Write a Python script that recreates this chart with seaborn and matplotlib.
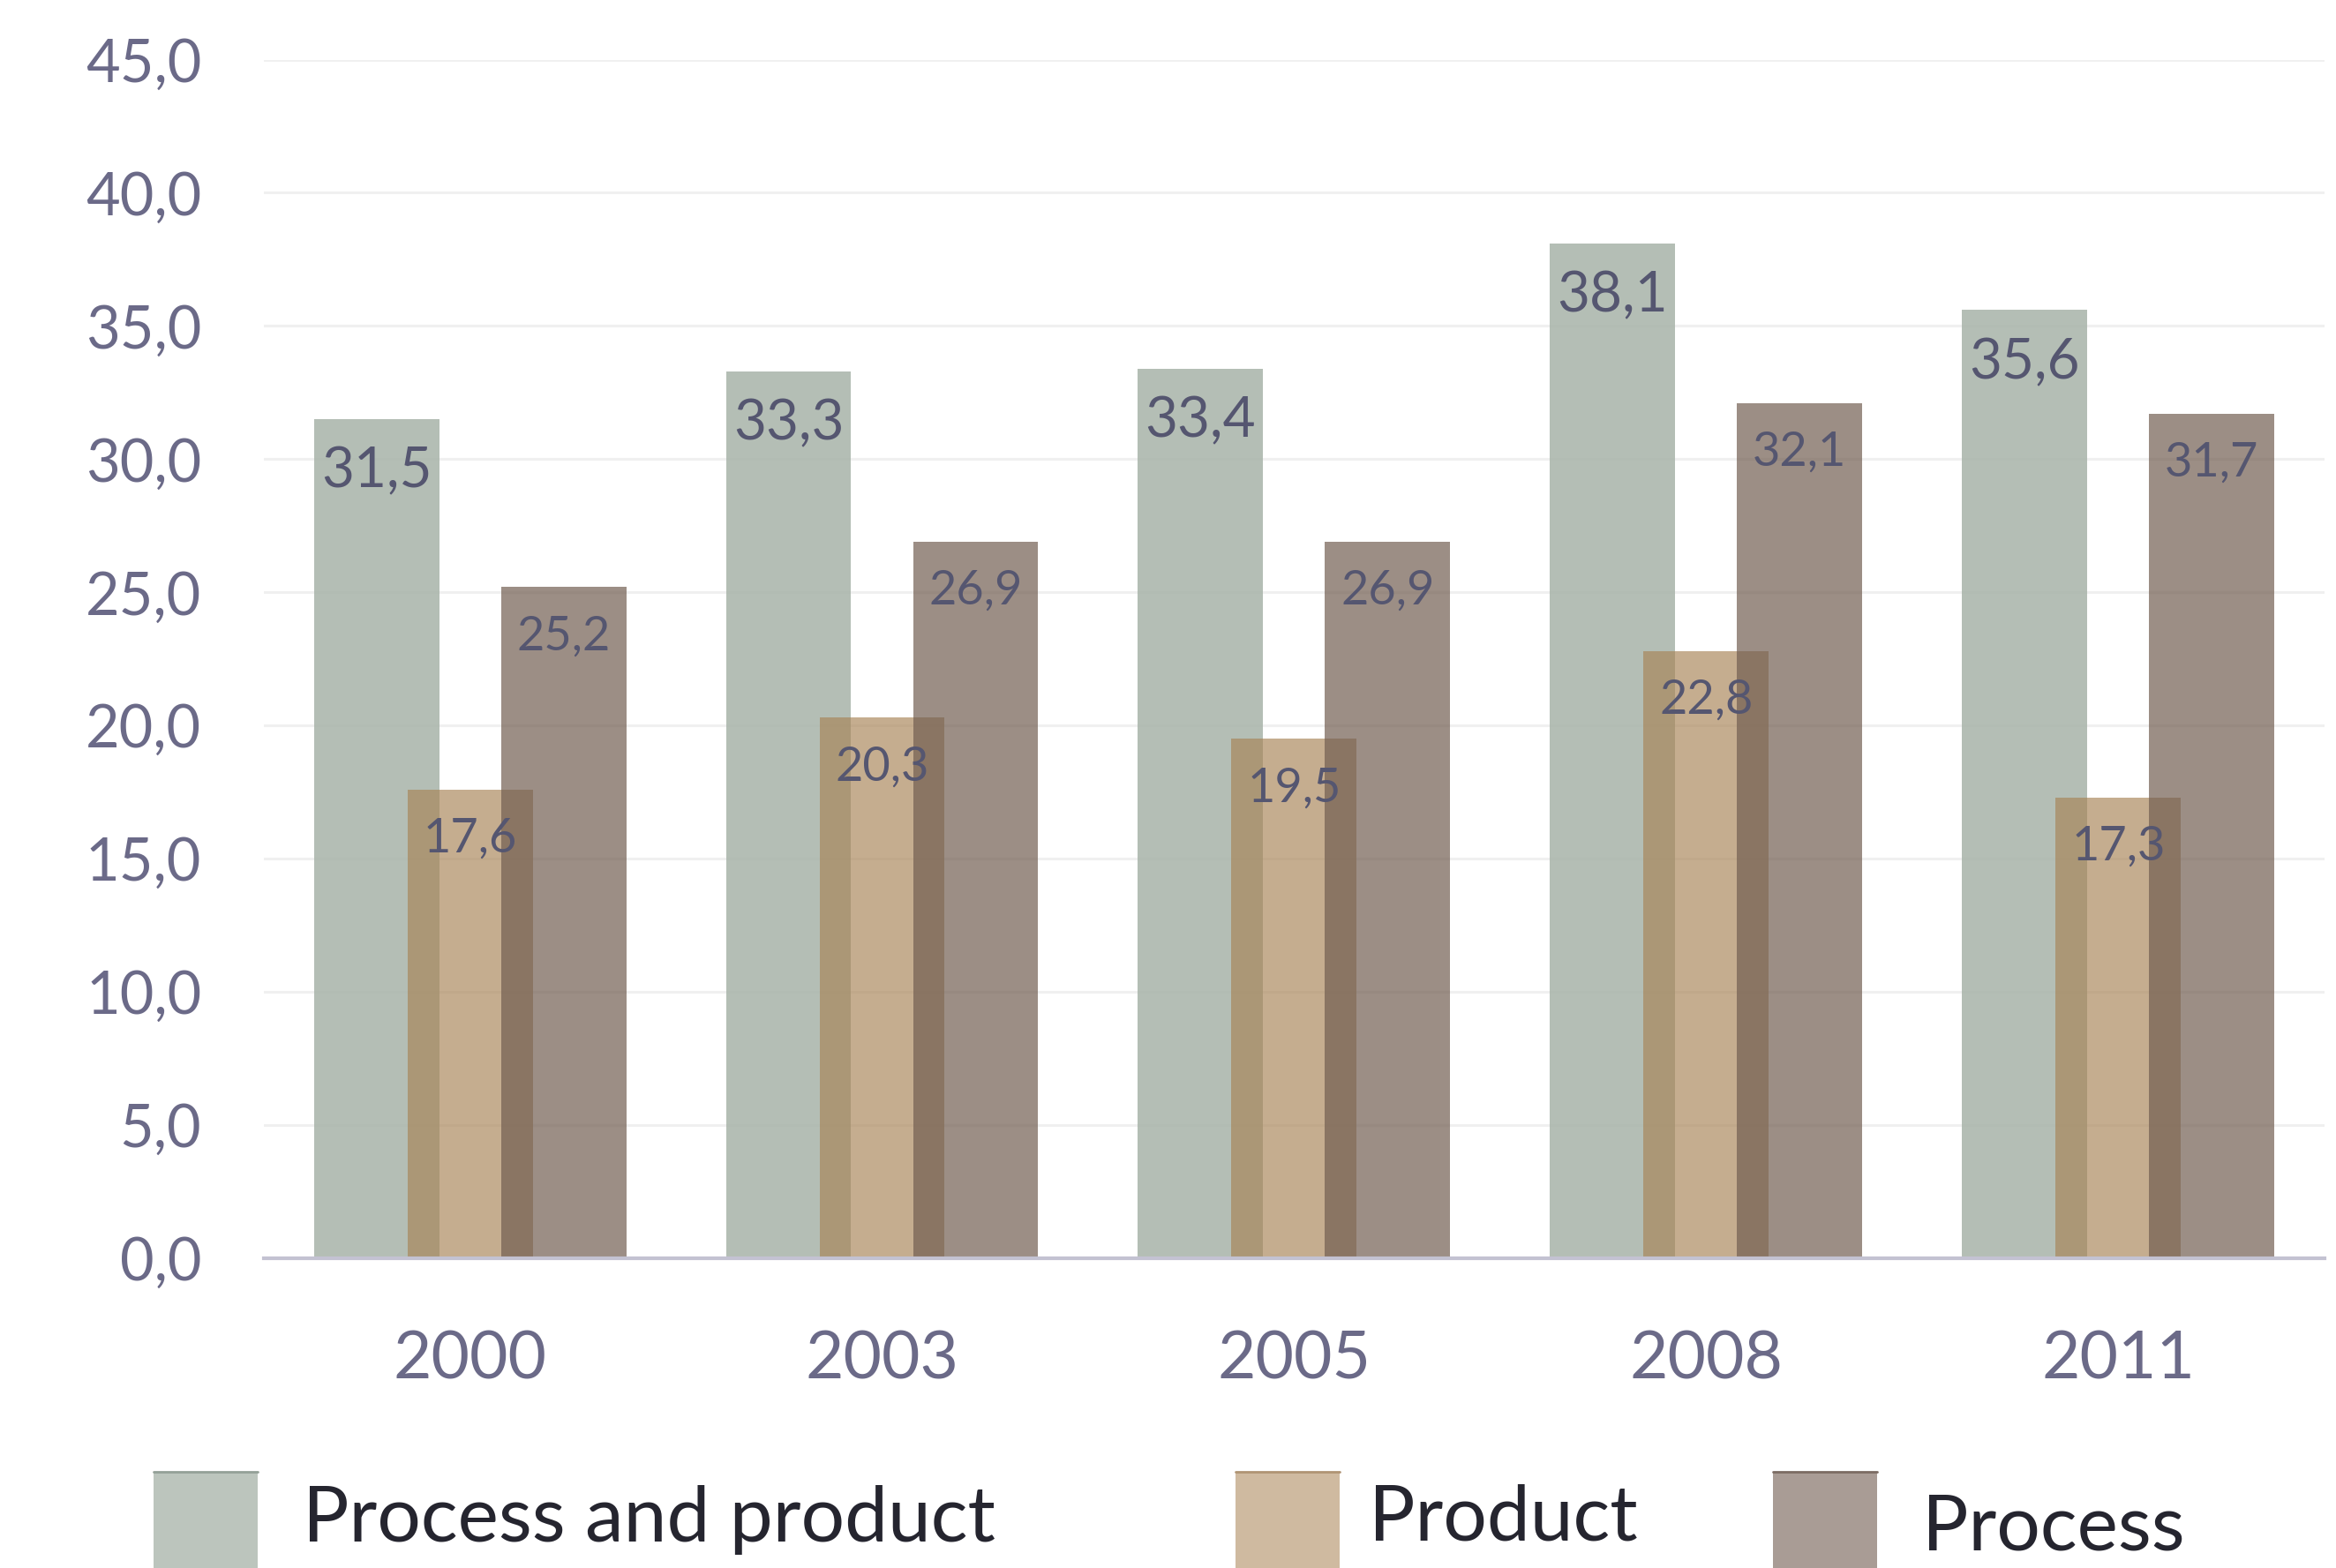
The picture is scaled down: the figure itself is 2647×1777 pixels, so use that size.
import matplotlib
matplotlib.use("Agg")
import matplotlib.pyplot as plt
from matplotlib.patches import Rectangle
import seaborn as sns
import pandas as pd

years = ["2000", "2003", "2005", "2008", "2011"]
series = ["Process and product", "Product", "Process"]
process_and_product = [31.5, 33.3, 33.4, 38.1, 35.6]
product = [17.6, 20.3, 19.5, 22.8, 17.3]
process = [25.2, 26.9, 26.9, 32.1, 31.7]
y_ticks = [0, 5, 10, 15, 20, 25, 30, 35, 40, 45]

colors = ["#acb7ad", "#a78254", "#725e51"]
alphas = [0.9, 0.65, 0.7]
legend_colors = ["#bcc5bd", "#cfbaa0", "#a99c95"]
legend_edge = ["#93a097", "#b09474", "#7b6c63"]

sns.set_theme(style="white")
plt.rcParams["font.family"] = ["Lato", "DejaVu Sans"]

df = pd.DataFrame({
    "year": years * 3,
    "value": process_and_product + product + process,
    "series": [series[0]] * 5 + [series[1]] * 5 + [series[2]] * 5,
})

fig = plt.figure(figsize=(26.47, 17.77), dpi=100)
ax = fig.add_axes([0.113, 0.1975, 0.882, 0.7645])

sns.barplot(data=df, x="year", y="value", hue="series", hue_order=series,
            order=years, palette=colors, width=0.681, dodge=True,
            legend=False, ax=ax, errorbar=None, saturation=1)

bar_w = 0.304
label_sizes = [46, 39, 39]
label_offsets = [-43, -40, -40]
for i, cont in enumerate(ax.containers):
    for bar in cont:
        cx = bar.get_x() + bar.get_width() / 2
        bar.set_width(bar_w)
        bar.set_x(cx - bar_w / 2)
        bar.set_alpha(alphas[i])
        bar.set_zorder(2 + i)
        bar.set_edgecolor("none")
        h = bar.get_height()
        ax.annotate(f"{h:.1f}".replace(".", ","), (cx, h),
                    xytext=(0, label_offsets[i]), textcoords="offset points",
                    ha="center", va="center", fontsize=label_sizes[i],
                    color="#555670", zorder=10)

ax.set_xlim(-0.5, 4.5)
ax.set_ylim(0, 45)
ax.set_yticks(y_ticks)
ax.set_yticklabels([f"{t:.1f}".replace(".", ",") for t in y_ticks])
ax.set_xlabel("")
ax.set_ylabel("")
ax.yaxis.grid(True, color="#f0f0f0", linewidth=2.2, zorder=0)
ax.set_axisbelow(True)
ax.tick_params(axis="y", length=0, pad=51, labelsize=48, labelcolor="#6b6a88")
ax.tick_params(axis="x", length=0, pad=58, labelsize=54, labelcolor="#6b6a88")
for s in ["top", "right", "left"]:
    ax.spines[s].set_visible(False)
ax.spines["bottom"].set_color("#c3c2d2")
ax.spines["bottom"].set_linewidth(3)
ax.spines["bottom"].set_zorder(6)

# legend
patch_x = [0.0657, 0.529, 0.759]
text_x = [0.1296, 0.586, 0.823]
text_y = [0.0169, 0.018, 0.0113]
for i, name in enumerate(series):
    r = Rectangle((patch_x[i], -0.01), 0.0446, 0.0713, transform=fig.transFigure,
                  facecolor=legend_colors[i], edgecolor="none")
    fig.patches.append(r)
    fig.add_artist(plt.Line2D([patch_x[i], patch_x[i] + 0.0446], [0.0613, 0.0613],
                              transform=fig.transFigure, color=legend_edge[i], lw=2))
    fig.text(text_x[i], text_y[i], name, fontsize=63, color="#25252f",
             ha="left", va="baseline")

fig.savefig("out.png", dpi=100)
